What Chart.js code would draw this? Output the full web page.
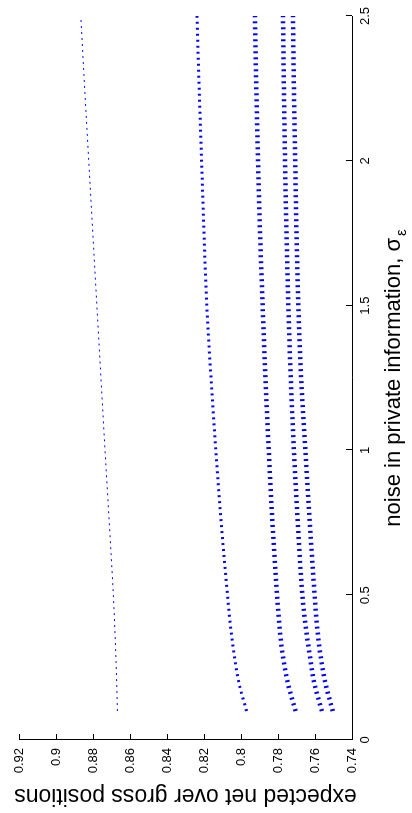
<!DOCTYPE html>
<html>
<head>
<meta charset="utf-8">
<script src="https://cdn.jsdelivr.net/npm/chart.js@4.4.1/dist/chart.umd.min.js"></script>
<style>
  html, body { margin: 0; padding: 0; background: #fff; overflow: hidden; }
  /* the figure is drawn landscape and turned a quarter turn, as in the scan */
  #wrap {
    position: absolute; left: 0; top: 0; width: 813px; height: 412px;
    transform-origin: 0 0; transform: translate(0, 813px) rotate(-90deg);
  }
</style>
</head>
<body>
<div id="wrap"><canvas id="c" width="813" height="412"></canvas></div>
<script>
  // noise levels
  const sigma = [0.1, 0.2, 0.3, 0.4, 0.5, 0.75, 1.0, 1.25, 1.5, 1.75, 2.0, 2.25, 2.5];

  const curveA = [0.8668, 0.8672, 0.8677, 0.8683, 0.8690, 0.8712, 0.8735, 0.8757, 0.8779, 0.8801, 0.8823, 0.8845, 0.8866];
  const curveB = [0.7970, 0.8012, 0.8038, 0.8058, 0.8073, 0.8107, 0.8136, 0.8162, 0.8185, 0.8200, 0.8213, 0.8226, 0.8238];
  const curveC = [0.7705, 0.7748, 0.7776, 0.7793, 0.7805, 0.7830, 0.7850, 0.7868, 0.7883, 0.7897, 0.7908, 0.7917, 0.7925];
  const curveD = [0.7563, 0.7605, 0.7630, 0.7652, 0.7668, 0.7693, 0.7714, 0.7731, 0.7744, 0.7754, 0.7762, 0.7768, 0.7773];
  const curveE = [0.7504, 0.7545, 0.7572, 0.7590, 0.7602, 0.7628, 0.7652, 0.7675, 0.7690, 0.7700, 0.7707, 0.7714, 0.7719];

  const xTicks = [0, 0.5, 1, 1.5, 2, 2.5];
  const xTickLabels = ['0', '0.5', '1', '1.5', '2', '2.5'];
  const yTicks = [0.74, 0.76, 0.78, 0.80, 0.82, 0.84, 0.86, 0.88, 0.90, 0.92];
  const yTickLabels = ['0.74', '0.76', '0.78', '0.8', '0.82', '0.84', '0.86', '0.88', '0.9', '0.92'];

  const FONT = '"Liberation Sans", Arial, sans-serif';

  function pts(ys) {
    return sigma.map(function (x, i) { return { x: x, y: ys[i] }; });
  }

  function dotted(ys, width) {
    return {
      data: pts(ys),
      borderColor: '#0000ff',
      borderWidth: width,
      borderDash: [2, 4],
      borderCapStyle: 'butt',
      pointRadius: 0,
      fill: false,
      cubicInterpolationMode: 'monotone'
    };
  }

  // matlab-ish axes: no box, ticks pointing inward, titles drawn by hand (subscript)
  const matlabAxes = {
    id: 'matlabAxes',
    afterDraw: function (chart) {
      const ctx = chart.ctx;
      const a = chart.chartArea;
      const sx = chart.scales.x, sy = chart.scales.y;
      ctx.save();
      ctx.strokeStyle = '#000';
      ctx.lineWidth = 1;
      ctx.beginPath();
      ctx.moveTo(a.left + 0.5, a.top);
      ctx.lineTo(a.left + 0.5, a.bottom + 0.5);
      ctx.lineTo(a.right, a.bottom + 0.5);
      sx.ticks.forEach(function (t) {
        const px = Math.round(sx.getPixelForValue(t.value)) + 0.5;
        ctx.moveTo(px, a.bottom);
        ctx.lineTo(px, a.bottom - 6);
      });
      sy.ticks.forEach(function (t) {
        const py = Math.round(sy.getPixelForValue(t.value)) + 0.5;
        ctx.moveTo(a.left, py);
        ctx.lineTo(a.left + 6, py);
      });
      ctx.stroke();

      ctx.fillStyle = '#000';
      // x title with subscript epsilon
      const main = 'noise in private information, \u03c3';
      const sub = '\u03b5';
      ctx.font = '22px ' + FONT;
      const wMain = ctx.measureText(main).width;
      ctx.font = '15px ' + FONT;
      const wSub = ctx.measureText(sub).width;
      const x0 = (a.left + a.right) / 2 - (wMain + wSub + 2) / 2;
      ctx.textBaseline = 'alphabetic';
      ctx.textAlign = 'left';
      ctx.font = '22px ' + FONT;
      ctx.fillText(main, x0, 400);
      ctx.font = '15px ' + FONT;
      ctx.fillText(sub, x0 + wMain + 2, 406);

      // y title, vertical
      ctx.translate(18, (a.top + a.bottom) / 2);
      ctx.rotate(-Math.PI / 2);
      ctx.font = '23px ' + FONT;
      ctx.textAlign = 'center';
      ctx.textBaseline = 'middle';
      ctx.fillText('expected net over gross positions', 0, 0);
      ctx.restore();
    }
  };

  new Chart(document.getElementById('c').getContext('2d'), {
    type: 'line',
    data: {
      datasets: [
        dotted(curveA, 1),
        dotted(curveB, 3),
        dotted(curveC, 4.5),
        dotted(curveD, 4.5),
        dotted(curveE, 4.5)
      ]
    },
    options: {
      responsive: false,
      animation: false,
      layout: { padding: { top: 19, right: 16, left: 0, bottom: 0 } },
      scales: {
        x: {
          type: 'linear', min: 0, max: 2.5,
          grid: { display: false, drawTicks: false },
          border: { display: false },
          afterBuildTicks: function (s) { s.ticks = xTicks.map(function (v) { return { value: v }; }); },
          afterFit: function (s) { s.height = 60; },
          ticks: {
            color: '#000', padding: 6, maxRotation: 0,
            font: { family: FONT, size: 13 },
            callback: function (v, i) { return xTickLabels[i]; }
          }
        },
        y: {
          type: 'linear', min: 0.74, max: 0.92,
          grid: { display: false, drawTicks: false },
          border: { display: false },
          afterBuildTicks: function (s) { s.ticks = yTicks.map(function (v) { return { value: v }; }); },
          afterFit: function (s) { s.width = 73; },
          ticks: {
            color: '#000', padding: 8,
            font: { family: FONT, size: 13 },
            callback: function (v, i) { return yTickLabels[i]; }
          }
        }
      },
      plugins: { legend: { display: false }, tooltip: { enabled: false } }
    },
    plugins: [matlabAxes]
  });
</script>
</body>
</html>
